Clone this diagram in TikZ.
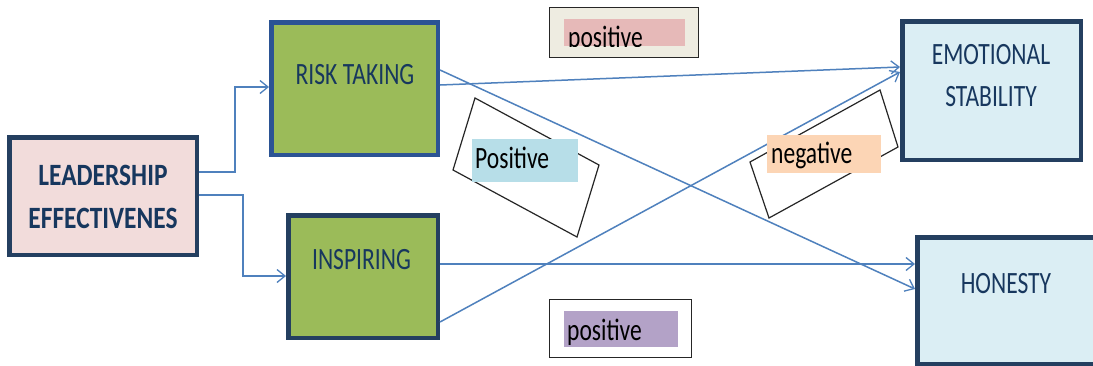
\documentclass[tikz,border=0pt]{standalone}
\usepackage{fontspec}
\setmainfont{Carlito}
\newfontfamily\boxfont[FakeStretch=0.76]{Carlito}
\newfontfamily\leadfont[FakeStretch=0.82]{Carlito}
\usetikzlibrary{arrows.meta,calc}
\definecolor{navy}{HTML}{243F60}
\definecolor{riskborder}{HTML}{2B5394}
\definecolor{txtnavy}{HTML}{17375E}
\definecolor{leadfill}{HTML}{F2DCDB}
\definecolor{greenfill}{HTML}{9BBB59}
\definecolor{bluefill}{HTML}{DBEEF4}
\definecolor{connblue}{HTML}{4F81BD}
\definecolor{beige}{HTML}{EEECE1}
\definecolor{pinkfill}{HTML}{E6B9B8}
\definecolor{cyanfill}{HTML}{B7DEE8}
\definecolor{orangefill}{HTML}{FCD5B5}
\definecolor{purplefill}{HTML}{B3A2C7}
\begin{document}
\begin{tikzpicture}[x=1pt,y=-1pt,
  box/.style={draw=navy, line width=4.5pt, rectangle, inner sep=0pt},
  boxtxt/.style={inner sep=0pt, align=center, text=txtnavy, font=\boxfont\fontsize{31}{42}\selectfont},
  leadtxt/.style={inner sep=0pt, align=center, text=txtnavy, font=\leadfont\bfseries\fontsize{31}{43}\selectfont},
  conn/.style={draw=connblue, line width=1.5pt, -{Straight Barb[length=8pt,width=13pt,line width=1.3pt]}},
  plain/.style={draw=connblue, line width=1.5pt},
  tilted/.style={draw=black!85, line width=1.2pt, fill=white},
  lblbox/.style={draw=black!85, line width=1.3pt, inner sep=0pt},
  lblfill/.style={draw=none, inner sep=0pt},
  lbltxt/.style={inner sep=0pt, text=black, font=\boxfont\fontsize{31}{40}\selectfont}
]
\clip (0,0) rectangle (1093,365);
\fill[white] (0,0) rectangle (1093,365);

% main boxes
\node[box, fill=leadfill, minimum width=187.5pt, minimum height=117.5pt] (lead) at (103,196) {};
\node[box, draw=riskborder, fill=greenfill, minimum width=166.5pt, minimum height=132.5pt] (risk) at (354.5,88.5) {};
\node[box, fill=greenfill, minimum width=149.5pt, minimum height=122.5pt] (insp) at (363,276.5) {};
\node[box, fill=bluefill, minimum width=178.5pt, minimum height=138.5pt] (emo) at (991.5,90.5) {};
\node[box, fill=bluefill, minimum width=178.5pt, minimum height=126.5pt] (hon) at (1006.5,300.5) {};

\node[leadtxt] (leadt) at (103,196.5) {LEADERSHIP\\EFFECTIVENES};
\node[boxtxt] (riskt) at (355,75) {RISK TAKING};
\node[boxtxt] (inspt) at (361.5,260) {INSPIRING};
\node[boxtxt] (emot) at (991,76) {EMOTIONAL\\STABILITY};
\node[boxtxt] (hont) at (1006,284) {HONESTY};

% connectors
\draw[conn] (lead.east |- 0,172) -- ++(36,0) |- (risk.west |- 0,87);
\draw[conn] (lead.east |- 0,195) -- ++(44,0) |- (insp.west |- 0,276);
\draw[conn] (risk.east |- 0,85) -- (emo.west |- 0,67);
\draw[conn] (risk.east |- 0,70) -- (hon.west |- 0,289);
\draw[conn] (insp.east |- 0,264) -- (hon.west |- 0,264);
\draw[conn] (insp.east |- 0,322) -- (emo.west |- 0,72);

% tilted frames
\draw[tilted] (475,98) -- (599,165) -- (577,237) -- (453,170) -- cycle;
\draw[tilted] (880,90) -- (898,147) -- (769,218) -- (750,162) -- cycle;

% labels
\node[lblfill, fill=cyanfill, minimum width=106pt, minimum height=43pt] (posbg) at (525,160.5) {};
\node[lbltxt, anchor=base west] (post) at (475,168) {Positive};

\node[lblfill, fill=orangefill, minimum width=114pt, minimum height=38pt] (negbg) at (824,154) {};
\node[lbltxt, anchor=base west] (negt) at (771,163) {negative};

\node[lblbox, fill=beige, minimum width=148.7pt, minimum height=49.7pt] (topbox) at (624,32.5) {};
\node[lblfill, fill=pinkfill, minimum width=121pt, minimum height=27pt] (topin) at (624.5,32.5) {};
\begin{scope}
  \clip (topin.north west) rectangle (topin.south east);
  \node[lbltxt, anchor=base west] (topt) at (568,47.5) {positive};
\end{scope}

\node[lblbox, fill=white, minimum width=141.7pt, minimum height=57.7pt] (botbox) at (620.5,328.5) {};
\node[lblfill, fill=purplefill, minimum width=114pt, minimum height=36pt] (botin) at (621,329) {};
\node[lbltxt, anchor=base west] (bott) at (567,340) {positive};
\end{tikzpicture}
\end{document}
